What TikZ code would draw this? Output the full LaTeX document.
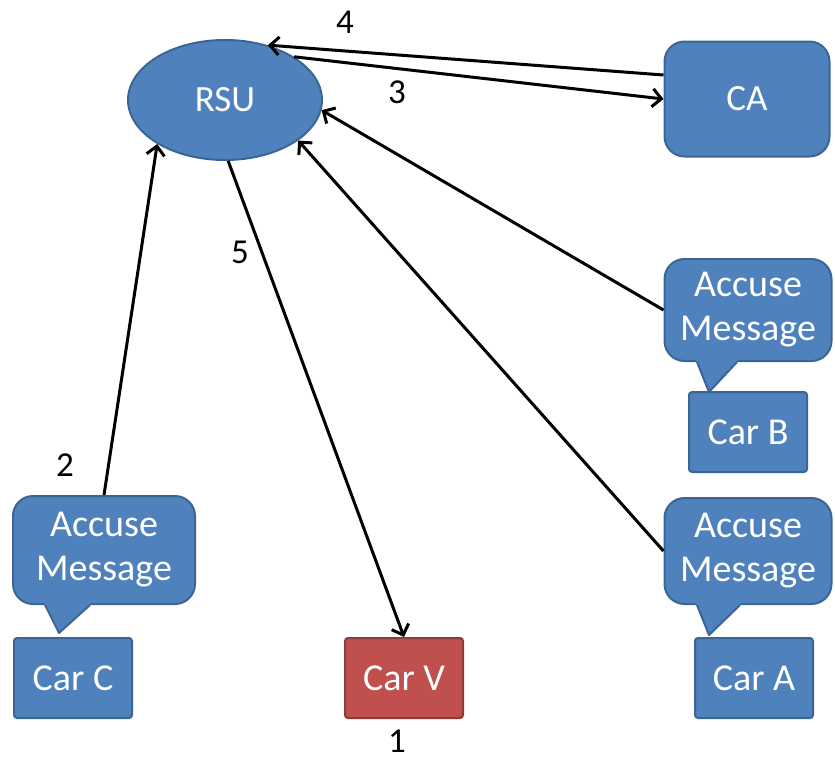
\documentclass[tikz,border=0pt]{standalone}
\usepackage{fontspec}
\setmainfont{Carlito}
\usetikzlibrary{shapes.geometric,arrows.meta,calc}

\definecolor{boxblue}{HTML}{4F81BD}
\definecolor{boxblueedge}{HTML}{3A6594}
\definecolor{boxred}{HTML}{C0504D}
\definecolor{boxrededge}{HTML}{8E3B39}

\tikzset{
  lbl/.style={font=\fontsize{38}{44}\selectfont, text=white, align=center, inner sep=0pt},
  bluebox/.style={lbl, draw=boxblueedge, fill=boxblue, line width=2pt},
  carbox/.style={bluebox, rectangle, rounded corners=3pt, minimum width=118pt, minimum height=80pt},
  vcarbox/.style={carbox, draw=boxrededge, fill=boxred},
  msgbox/.style={bluebox, rectangle, rounded corners=20pt},
  tailfill/.style={fill=boxblue},
  tailedge/.style={draw=boxblueedge, line width=2pt, line join=round},
  link/.style={line width=3pt, -{Straight Barb[length=9pt,width=18pt,line width=3pt]}},
  num/.style={font=\fontsize{35}{40}\selectfont, text=black, inner sep=0pt}
}

\begin{document}
\begin{tikzpicture}[x=1pt,y=-1pt]
  \useasboundingbox (0,0) rectangle (835,761);

  % main nodes
  \node[bluebox, ellipse, minimum width=194pt, minimum height=120pt, font=\fontsize{37}{42}\selectfont] (RSU) at (225,100) {RSU};
  \node[msgbox, minimum width=165pt, minimum height=115pt, font=\fontsize{37}{42}\selectfont] (CA) at (747,99) {CA};

  \node[msgbox, minimum width=167pt, minimum height=102pt] (msgB) at (748,310) {Accuse\\Message};
  \node[msgbox, minimum width=167pt, minimum height=106pt] (msgA) at (748,551) {Accuse\\Message};
  \node[msgbox, minimum width=182pt, minimum height=108pt] (msgC) at (104,550) {Accuse\\Message};

  \node[carbox] (carB) at (748,432) {Car B};
  \node[carbox] (carA) at (754,678) {Car A};
  \node[carbox] (carC) at (73,678) {Car C};
  \node[vcarbox] (carV) at (404,678) {Car V};

  % speech-bubble tails
  \fill[tailfill] ($(msgB.south)+(-52,-2)$) -- ($(msgB.south)+(-39,30)$) -- ($(msgB.south)+(-10,-2)$) -- cycle;
  \draw[tailedge] ($(msgB.south)+(-51,0)$) -- ($(msgB.south)+(-39,30)$) -- ($(msgB.south)+(-11,0)$);
  \fill[tailfill] ($(msgA.south)+(-52,-2)$) -- ($(msgA.south)+(-39,30)$) -- ($(msgA.south)+(-7,-2)$) -- cycle;
  \draw[tailedge] ($(msgA.south)+(-51,0)$) -- ($(msgA.south)+(-39,30)$) -- ($(msgA.south)+(-8,0)$);
  \fill[tailfill] ($(msgC.south)+(-60,-2)$) -- ($(msgC.south)+(-45,28)$) -- ($(msgC.south)+(-13,-2)$) -- cycle;
  \draw[tailedge] ($(msgC.south)+(-59,0)$) -- ($(msgC.south)+(-45,28)$) -- ($(msgC.south)+(-14,0)$);

  % connectors
  \draw[link] ($(CA.west)+(0,-24)$) -- (RSU.52);
  \draw[link] (RSU.32) -- (CA.west);
  \draw[link] (msgB.west) -- (RSU.-6);
  \draw[link] (msgA.west) -- (RSU.-29);
  \draw[link] (msgC.north) -- (RSU.-147);
  \draw[link] (RSU.-87) -- (carV.north);

  % step numbers
  \node[num] (n4) at (345,22) {4};
  \node[num] (n3) at (397,92) {3};
  \node[num] (n5) at (240,252) {5};
  \node[num] (n2) at (65,465) {2};
  \node[num] (n1) at (397,741) {1};
\end{tikzpicture}
\end{document}
